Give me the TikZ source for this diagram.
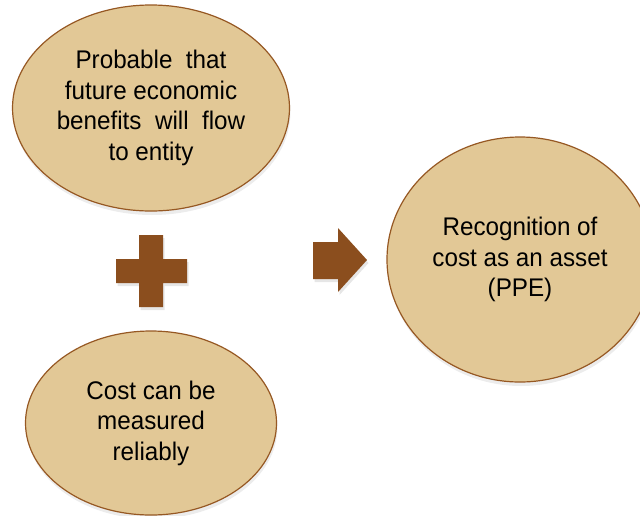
\documentclass[tikz,border=0pt]{standalone}
\usepackage{fontspec}
\setmainfont{Liberation Sans}[FakeStretch=0.95]
\usetikzlibrary{shapes.geometric,shadows}

\definecolor{tanfill}{RGB}{226,200,150}
\definecolor{tanline}{RGB}{150,88,35}
\definecolor{signbrown}{RGB}{139,78,30}

\tikzset{
  bubble/.style={ellipse, draw=tanline, line width=1.2pt, fill=tanfill,
    align=center, inner sep=0pt,
    font=\fontsize{25.5}{30.5}\selectfont,
    drop shadow={shadow xshift=1pt, shadow yshift=-4pt, opacity=0.15}},
  signshape/.style={fill=signbrown,
    drop shadow={shadow xshift=1.5pt, shadow yshift=-3pt, opacity=0.2}}
}

\begin{document}
\begin{tikzpicture}[x=1pt,y=-1pt]
\useasboundingbox (0,0) rectangle (640,515);

%Shape: Ellipse [top]
\node[bubble, minimum width=277pt, minimum height=206pt] (benefit) at (151,108)
  {Probable~ that\\future economic\\benefits~ will~ flow\\to entity};

%Shape: Ellipse [bottom]
\node[bubble, minimum width=251pt, minimum height=184pt] (cost) at (151,423)
  {Cost can be\\measured\\reliably};

%Shape: Circle [right]
\node[bubble, minimum width=266pt, minimum height=245pt] (asset) at (520,259.5)
  {Recognition of\\cost as an asset\\(PPE)};

%Shape: Plus
\fill[signshape] (139,235) -- (163,235) -- (163,259) -- (187,259) -- (187,283)
  -- (163,283) -- (163,307) -- (139,307) -- (139,283) -- (116,283)
  -- (116,259) -- (139,259) -- cycle;

%Shape: Right Arrow
\fill[signshape] (313,242) -- (338,242) -- (338,228) -- (367,260) -- (338,292)
  -- (338,279) -- (313,279) -- cycle;

\end{tikzpicture}
\end{document}
